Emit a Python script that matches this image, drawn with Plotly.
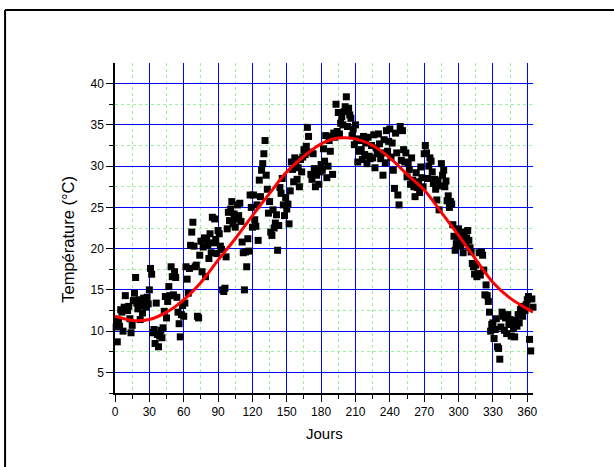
import plotly.graph_objects as go

# Daily temperatures (day 1..365)
temps = [
    10.5, 8.7, 11.2, 10.6, 12.6, 12.3, 10.0, 12.9, 14.3, 12.8,
    12.5, 13.0, 11.5, 9.8, 10.7, 13.7, 14.6, 16.5, 13.4, 12.7,
    13.8, 11.4, 13.1, 12.2, 14.0, 13.5, 12.9, 14.1, 13.3, 15.0,
    17.6, 16.9, 9.8, 10.2, 8.5, 13.4, 9.6, 8.1, 9.4, 10.1,
    9.2, 10.4, 12.4, 14.2, 11.6, 13.6, 15.4, 14.3, 17.8, 16.6,
    14.4, 17.2, 16.5, 14.1, 12.3, 10.9, 9.3, 12.0, 13.1, 11.8,
    13.4, 17.8, 16.3, 14.6, 17.6, 20.4, 22.0, 23.2, 20.3, 17.8,
    18.0, 11.8, 11.6, 19.2, 20.9, 17.2, 20.2, 21.3, 16.6, 21.2,
    20.4, 18.8, 21.8, 19.5, 23.8, 20.7, 23.6, 21.1, 19.4, 22.2,
    21.8, 20.3, 19.9, 15.0, 14.8, 15.2, 19.0, 22.4, 24.4, 23.4,
    24.8, 25.7, 23.0, 24.2, 22.6, 23.6, 25.3, 24.0, 25.5, 23.3,
    20.8, 19.5, 15.0, 19.6, 17.8, 21.2, 19.7, 26.5, 25.0, 22.6,
    26.5, 23.5, 22.7, 25.3, 21.0, 28.3, 26.3, 29.5, 30.3, 31.5,
    33.1, 28.9, 27.2, 24.3, 25.7, 22.0, 21.6, 24.7, 22.5, 23.1,
    24.1, 19.8, 22.8, 27.4, 26.7, 28.5, 25.3, 24.0, 26.2, 24.8,
    25.4, 23.0, 27.0, 30.5, 29.6, 28.1, 31.0, 30.2, 28.4, 29.8,
    27.5, 30.8, 29.3, 31.1, 32.0, 31.4, 32.4, 34.7, 33.6, 31.7,
    29.0, 28.4, 31.5, 29.7, 27.5, 28.9, 29.4, 27.8, 29.3, 30.2,
    29.5, 32.1, 30.6, 33.7, 28.6, 30.0, 33.1, 31.8, 33.6, 29.0,
    34.0, 33.5, 37.5, 34.2, 36.5, 33.9, 35.2, 36.0, 35.0, 36.6,
    37.2, 38.4, 34.8, 37.0, 36.2, 35.8, 33.7, 34.5, 32.6, 35.0,
    33.3, 30.5, 31.8, 33.1, 32.0, 30.8, 33.6, 31.4, 32.8, 30.3,
    33.5, 31.2, 30.9, 32.5, 31.0, 33.8, 29.8, 32.2, 31.5, 33.9,
    32.7, 30.9, 31.6, 28.9, 33.2, 30.4, 34.3, 31.8, 33.0, 34.5,
    31.1, 32.8, 29.5, 27.3, 34.0, 31.6, 26.5, 25.3, 34.8, 30.7,
    34.3, 32.0, 30.5, 31.6, 28.7, 30.4, 29.6, 27.8, 31.0, 28.3,
    27.5, 26.3, 29.2, 27.4, 28.1, 26.8, 29.9, 28.6, 27.5, 31.5,
    32.5, 31.6, 28.5, 30.0, 31.0, 30.6, 29.3, 27.9, 28.4, 27.2,
    25.9, 28.3, 24.7, 27.6, 30.3, 28.9, 29.5, 27.5, 28.2, 25.8,
    26.4, 25.0, 25.7, 25.4, 22.9, 21.5, 19.8, 20.6, 21.4, 22.4,
    21.8, 20.3, 21.0, 19.5, 22.0, 20.8, 21.3, 22.2, 21.0, 20.1,
    19.6, 18.2, 17.8, 16.9, 18.0, 16.6, 17.0, 19.5, 16.8, 19.6,
    19.2, 17.4, 14.4, 15.6, 14.3, 13.6, 12.3, 10.0, 10.8, 11.0,
    9.1, 10.2, 11.5, 8.1, 7.9, 6.6, 10.5, 12.3, 11.8, 10.1,
    11.6, 9.7, 12.0, 10.8, 11.4, 9.4, 10.9, 10.3, 9.3, 11.3,
    10.6, 12.0, 11.0, 12.6, 13.0, 11.8, 12.7, 12.5, 13.2, 13.8,
    14.2, 9.0, 7.6, 13.9, 12.9,
]
days = list(range(1, len(temps) + 1))

# Fitted curve at regular days
fit_days = [0, 15, 30, 45, 60, 75, 90, 105, 120, 135, 150, 165, 180, 195,
            210, 225, 240, 255, 270, 285, 300, 315, 330, 345, 360, 365]
fit_temps = [11.8, 11.3, 11.4, 12.3, 13.8, 15.9, 18.6, 21.2, 24.0, 26.7,
             29.3, 31.2, 32.7, 33.4, 33.3, 32.5, 31.0, 29.0, 27.1, 24.4,
             21.6, 18.7, 15.9, 14.0, 12.7, 12.3]

x_ticks = [0, 30, 60, 90, 120, 150, 180, 210, 240, 270, 300, 330, 360]
x_minor = [15, 45, 75, 105, 135, 165, 195, 225, 255, 285, 315, 345]
y_ticks = [5, 10, 15, 20, 25, 30, 35, 40]
y_minor = [2.5, 7.5, 12.5, 17.5, 22.5, 27.5, 32.5, 37.5]
x_title = "Jours"
y_title = "Température (°C)"

FONT = "Arial, Liberation Sans, sans-serif"

fig = go.Figure()
fig.add_trace(go.Scatter(
    x=days, y=temps, mode="markers",
    marker=dict(symbol="square", size=7, color="black", line=dict(width=0)),
    showlegend=False, cliponaxis=False,
))
fig.add_trace(go.Scatter(
    x=fit_days, y=fit_temps, mode="lines",
    line=dict(color="#ff0000", width=3, shape="spline"),
    showlegend=False,
))

grid_minor = dict(tickmode="array", ticklen=4, tickcolor="black", tickwidth=1,
                  showgrid=True, gridcolor="#9cf09c", griddash="dot", gridwidth=1)

fig.update_xaxes(
    range=[0, 365], tickvals=x_ticks, ticktext=[str(v) for v in x_ticks],
    showline=True, linecolor="black", linewidth=1.5,
    ticks="outside", ticklen=7, tickwidth=1, tickcolor="black",
    showgrid=True, gridcolor="#0000ff", gridwidth=1,
    minor=dict(tickvals=x_minor, **grid_minor),
    zeroline=False,
    tickfont=dict(family=FONT, size=12, color="black"),
)
fig.update_yaxes(
    range=[2.5, 42.5], tickvals=y_ticks, ticktext=[str(v) for v in y_ticks],
    showline=True, linecolor="black", linewidth=1.5,
    ticks="outside", ticklen=7, tickwidth=1, tickcolor="black",
    showgrid=True, gridcolor="#0000ff", gridwidth=1,
    minor=dict(tickvals=y_minor, **grid_minor),
    zeroline=False,
    tickfont=dict(family=FONT, size=12, color="black"),
)

fig.add_annotation(text=x_title, xref="paper", yref="paper", x=0.5, y=-0.123,
                   xanchor="center", yanchor="middle", showarrow=False,
                   font=dict(family=FONT, size=15, color="black"))
fig.add_annotation(text=y_title, xref="paper", yref="paper", x=-0.1124, y=0.4645,
                   xanchor="center", yanchor="middle", showarrow=False, textangle=-90,
                   font=dict(family=FONT, size=16.5, color="black"))

# outer frame lines (top and left), as in the reference
fig.add_shape(type="line", xref="paper", yref="paper",
              x0=-0.263, x1=1.3, y0=1.1606, y1=1.1606,
              line=dict(color="black", width=2))
fig.add_shape(type="line", xref="paper", yref="paper",
              x0=-0.263, x1=-0.263, y0=-0.3, y1=1.1606,
              line=dict(color="black", width=2))

fig.update_layout(
    width=614, height=467,
    margin=dict(l=115, r=81, t=63, b=74),
    paper_bgcolor="white", plot_bgcolor="white",
    font=dict(family=FONT, color="black"),
)

fig.write_html(
    "out.html",
    config={"displayModeBar": False},
    post_script="document.body.style.margin='0';document.body.style.overflow='hidden';",
)
